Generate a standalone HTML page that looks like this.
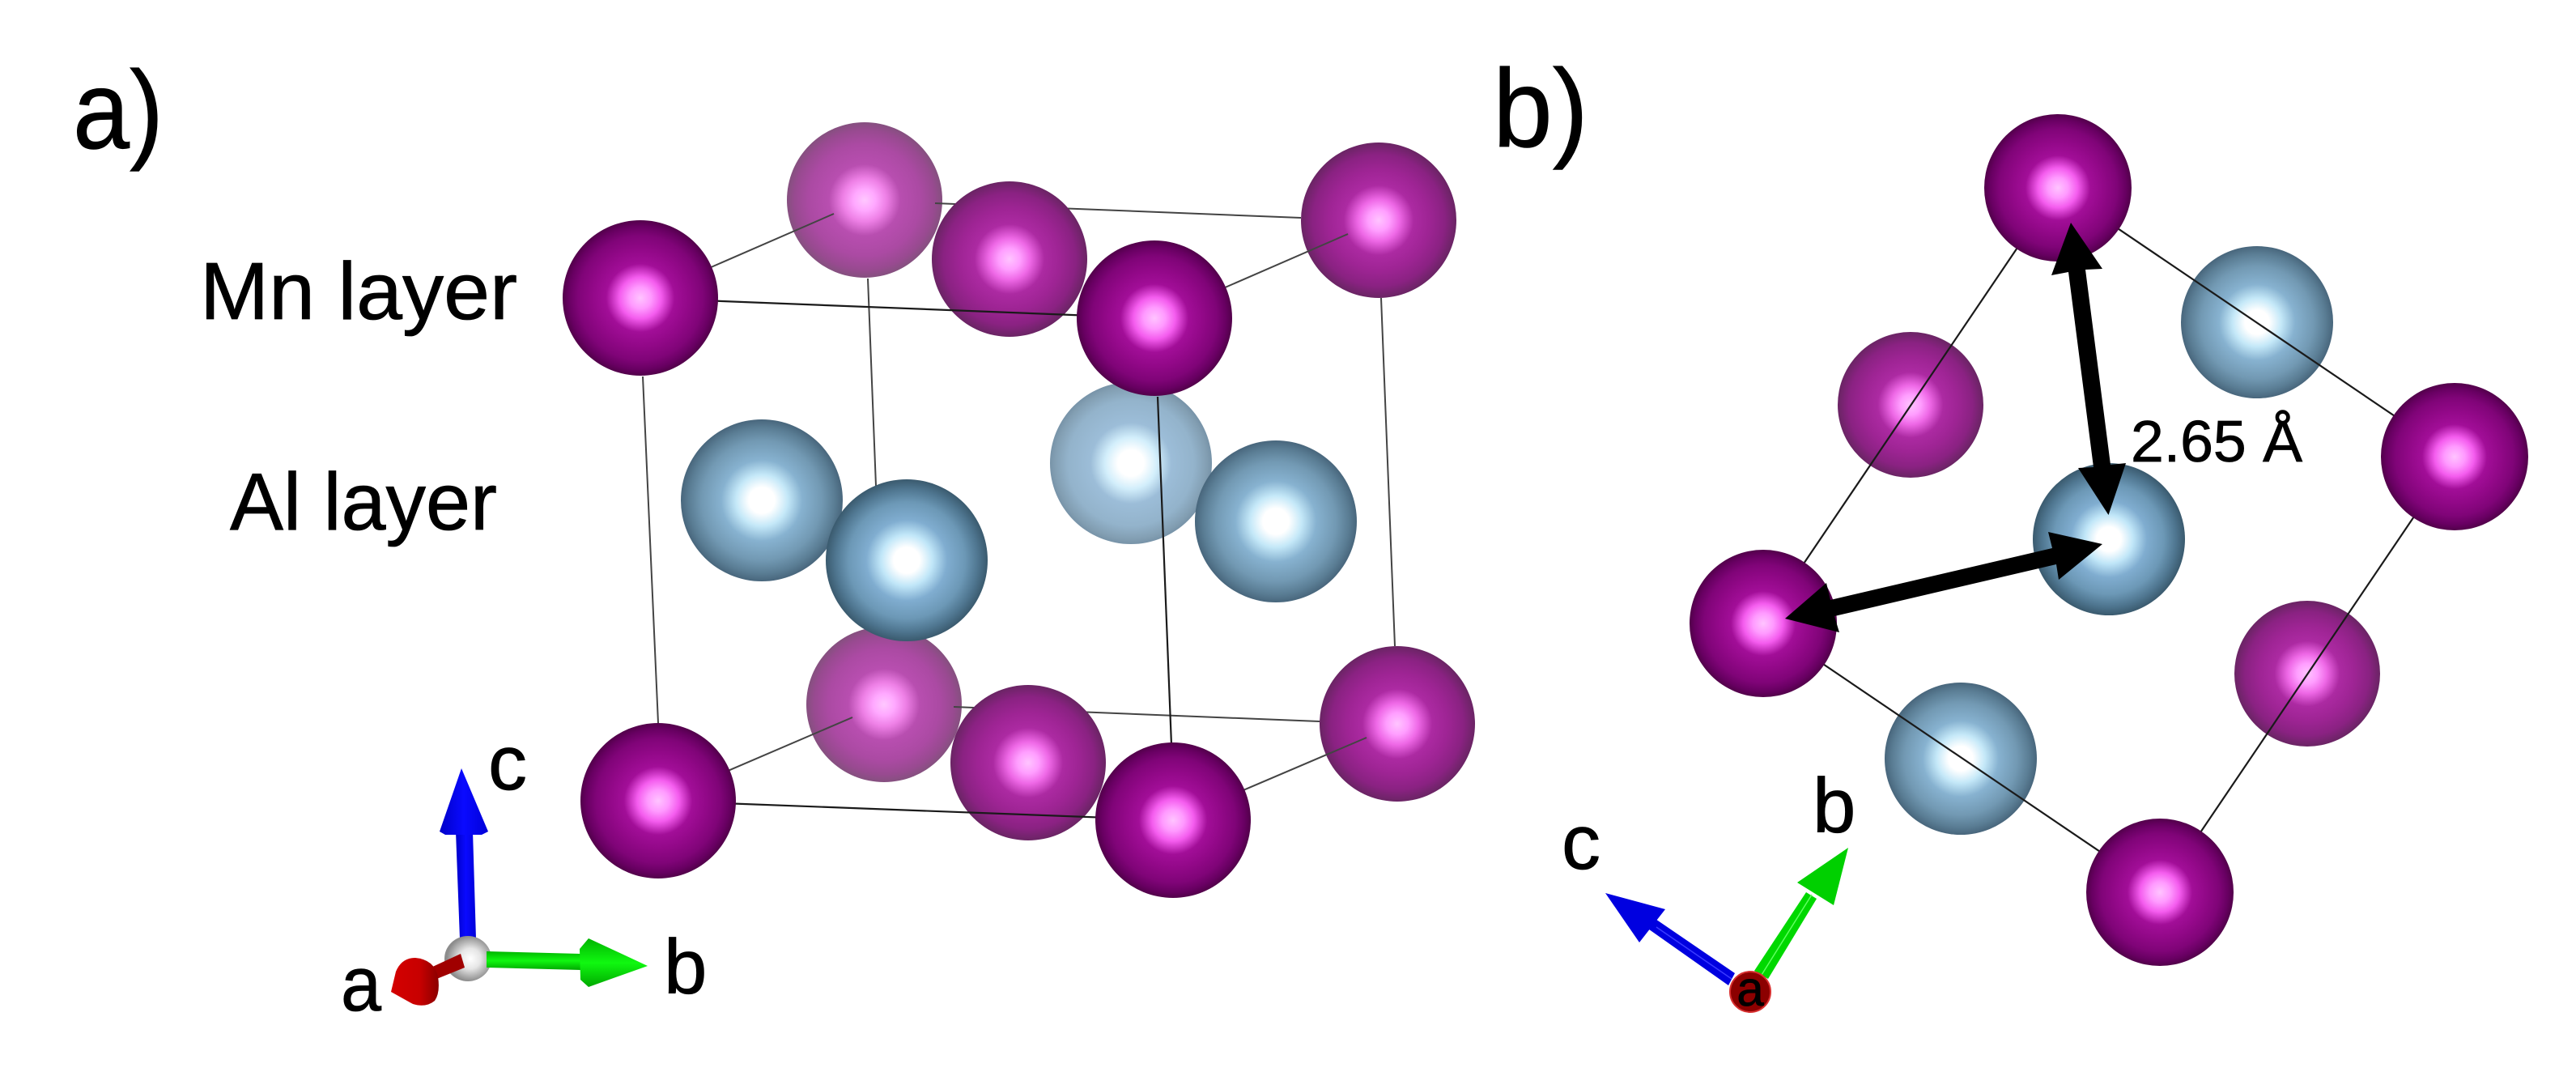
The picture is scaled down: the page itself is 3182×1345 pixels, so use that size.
<!DOCTYPE html>
<html lang="en">
<head>
<meta charset="utf-8">
<title>MnAl crystal structure</title>
<style>
html,body{margin:0;padding:0;background:#fff;width:3182px;height:1345px;overflow:hidden}
svg{display:block}
text{font-family:"Liberation Sans",sans-serif;fill:#000;stroke:#000;stroke-width:.8}
.ln{stroke:#444;stroke-width:2;fill:none}
.lb{stroke:#1a1a1a;stroke-width:2.2;fill:none}
</style>
</head>
<body>
<svg xmlns="http://www.w3.org/2000/svg" width="3182" height="1345" viewBox="0 0 3182 1345">
<defs>
<radialGradient id="mnF"><stop offset="0" stop-color="#ffc4ff"/><stop offset=".14" stop-color="#ff9aff"/><stop offset=".27" stop-color="#f45cee"/><stop offset=".44" stop-color="#a20e98"/><stop offset=".62" stop-color="#920888"/><stop offset=".8" stop-color="#800478"/><stop offset=".92" stop-color="#680062"/><stop offset="1" stop-color="#52004a"/></radialGradient>
<radialGradient id="mnM"><stop offset="0" stop-color="#ffc4ff"/><stop offset=".14" stop-color="#ff9eff"/><stop offset=".27" stop-color="#ee68e6"/><stop offset=".45" stop-color="#ac2aa2"/><stop offset=".65" stop-color="#9e2494"/><stop offset=".85" stop-color="#8a2282"/><stop offset="1" stop-color="#6a2464"/></radialGradient>
<radialGradient id="mnB"><stop offset="0" stop-color="#ffc8ff"/><stop offset=".14" stop-color="#ffa8ff"/><stop offset=".28" stop-color="#ee80e6"/><stop offset=".46" stop-color="#b84eb0"/><stop offset=".72" stop-color="#ab4aa3"/><stop offset=".9" stop-color="#984a90"/><stop offset="1" stop-color="#85507f"/></radialGradient>
<radialGradient id="alF"><stop offset="0" stop-color="#fff"/><stop offset=".16" stop-color="#fff"/><stop offset=".32" stop-color="#c0e6f8"/><stop offset=".5" stop-color="#80add0"/><stop offset=".72" stop-color="#6c98b6"/><stop offset=".88" stop-color="#4f7690"/><stop offset="1" stop-color="#3a5a6e"/></radialGradient>
<radialGradient id="alM"><stop offset="0" stop-color="#fff"/><stop offset=".16" stop-color="#fff"/><stop offset=".32" stop-color="#c4e8f8"/><stop offset=".5" stop-color="#87b2d0"/><stop offset=".74" stop-color="#7299b3"/><stop offset=".9" stop-color="#5a7d94"/><stop offset="1" stop-color="#48667c"/></radialGradient>
<radialGradient id="alB"><stop offset="0" stop-color="#fff"/><stop offset=".16" stop-color="#fff"/><stop offset=".32" stop-color="#d2eefb"/><stop offset=".5" stop-color="#9cbdd8"/><stop offset=".78" stop-color="#93b3cb"/><stop offset=".94" stop-color="#829eb2"/><stop offset="1" stop-color="#7793a8"/></radialGradient>
<radialGradient id="greyBall" cx=".55" cy=".5"><stop offset="0" stop-color="#fff"/><stop offset=".45" stop-color="#e6e6e6"/><stop offset="1" stop-color="#8c8c8c"/></radialGradient>
<linearGradient id="blueV" x1="0" x2="1" y1="0" y2="0"><stop offset="0" stop-color="#0000c8"/><stop offset=".5" stop-color="#0a0aff"/><stop offset="1" stop-color="#0000d8"/></linearGradient>
<linearGradient id="greenH" x1="0" x2="0" y1="0" y2="1"><stop offset="0" stop-color="#00b400"/><stop offset=".5" stop-color="#10f810"/><stop offset="1" stop-color="#00a800"/></linearGradient>
<linearGradient id="redH" x1="0" x2="1" y1="0" y2="0"><stop offset="0" stop-color="#d40000"/><stop offset=".6" stop-color="#c80000"/><stop offset="1" stop-color="#8a0000"/></linearGradient>
</defs>

<g>
  <text x="90" y="183" font-size="137" textLength="112" lengthAdjust="spacingAndGlyphs">a)</text>
  <text x="247" y="394" font-size="100" textLength="392" lengthAdjust="spacingAndGlyphs">Mn layer</text>
  <text x="284" y="654" font-size="100" textLength="330" lengthAdjust="spacingAndGlyphs">Al layer</text>

  <g>
    <circle cx="1068" cy="247" r="96" fill="url(#mnB)"/>
    <circle cx="1092" cy="870" r="96" fill="url(#mnB)"/>
    <circle cx="1703" cy="272" r="96" fill="url(#mnM)"/>
    <circle cx="1726" cy="894" r="96" fill="url(#mnM)"/>
  </g>

  <g>
    <line class="ln" x1="791" y1="368" x2="1030" y2="264"/>
    <line class="ln" x1="1155" y1="251" x2="1607" y2="269"/>
    <line class="ln" x1="1426" y1="393" x2="1665" y2="289"/>
    <line class="ln" x1="1072" y1="344" x2="1082" y2="600"/>
    <line class="ln" x1="1706" y1="368" x2="1723" y2="798"/>
    <line class="ln" x1="794" y1="465" x2="813" y2="893"/>
    <line class="ln" x1="813" y1="989" x2="1053" y2="886"/>
    <line class="ln" x1="1449" y1="1013" x2="1688" y2="911"/>
    <line class="ln" x1="1178" y1="873" x2="1630" y2="891"/>
  </g>

  <g>
    <circle cx="1247" cy="320" r="96" fill="url(#mnM)"/>
    <circle cx="1270" cy="942" r="96" fill="url(#mnM)"/>
    <circle cx="941" cy="618" r="100" fill="url(#alM)"/>
    <circle cx="1397" cy="572" r="100" fill="url(#alB)"/>
    <circle cx="1576" cy="644" r="100" fill="url(#alM)"/>
    <circle cx="1120" cy="692" r="100" fill="url(#alF)"/>
  </g>

  <g>
    <line class="lb" x1="791" y1="368" x2="1426" y2="393"/>
    <line class="lb" x1="1430" y1="490" x2="1447" y2="920"/>
    <line class="lb" x1="813" y1="989" x2="1449" y2="1013"/>
  </g>

  <g>
    <circle cx="791" cy="368" r="96" fill="url(#mnF)"/>
    <circle cx="813" cy="989" r="96" fill="url(#mnF)"/>
    <circle cx="1426" cy="393" r="96" fill="url(#mnF)"/>
    <circle cx="1449" cy="1013" r="96" fill="url(#mnF)"/>
  </g>

  <g>
    <polygon points="563,1027 584,1027 588,1160 568,1160" fill="url(#blueV)"/>
    <polygon points="570,949 603,1027 595,1031 550,1031 543,1027" fill="url(#blueV)"/>
    <ellipse cx="578" cy="1184" rx="29" ry="28" fill="url(#greyBall)"/>
    <polygon points="601,1175 717,1178 717,1198 601,1195" fill="url(#greenH)"/>
    <polygon points="727,1159 800,1193 727,1219 717,1210 716,1172" fill="url(#greenH)"/>
    <polygon points="569,1178 574,1195 537,1210 530,1196" fill="#a00000"/>
    <path d="M483,1225 L489,1200 Q496,1183 513,1183 Q536,1185 541,1206 Q544,1226 537,1236 Q526,1245 510,1240 Z" fill="url(#redH)"/>
    <text x="603" y="975" font-size="96">c</text>
    <text x="820" y="1227" font-size="96">b</text>
    <text x="421" y="1248" font-size="96" textLength="50" lengthAdjust="spacingAndGlyphs">a</text>
  </g>
</g>

<g>
  <text x="1844" y="181" font-size="137" textLength="118" lengthAdjust="spacingAndGlyphs">b)</text>

  <g>
    <circle cx="2788" cy="398" r="94" fill="url(#alM)"/>
    <circle cx="2422" cy="937" r="94" fill="url(#alM)"/>
    <circle cx="2360" cy="500" r="90" fill="url(#mnM)"/>
    <circle cx="2850" cy="832" r="90" fill="url(#mnM)"/>
  </g>

  <g>
    <line class="lb" x1="2542" y1="232" x2="3032" y2="564"/>
    <line class="lb" x1="3032" y1="564" x2="2668" y2="1102"/>
    <line class="lb" x1="2668" y1="1102" x2="2178" y2="770"/>
    <line class="lb" x1="2178" y1="770" x2="2542" y2="232"/>
  </g>

  <g>
    <circle cx="2542" cy="232" r="91" fill="url(#mnF)"/>
    <circle cx="3032" cy="564" r="91" fill="url(#mnF)"/>
    <circle cx="2668" cy="1102" r="91" fill="url(#mnF)"/>
    <circle cx="2178" cy="770" r="91" fill="url(#mnF)"/>
    <circle cx="2605" cy="666" r="94" fill="url(#alF)"/>
  </g>

  <g fill="#000">
    <polygon points="2558,275 2597,332 2576,333 2607,574 2626,572 2604.5,636 2567,578 2586,577 2555,336 2534,340"/>
    <polygon points="2205,764 2256,720 2261,741 2535,677 2530,657 2597,672 2543,716 2540,697 2266,761 2272,781"/>
  </g>

  <text x="2632" y="570" font-size="72" textLength="212" lengthAdjust="spacingAndGlyphs">2.65 Å</text>

  <g>
    <polygon points="2042,1133 2143,1202 2135,1217 2030,1143" fill="#0000e0"/>
    <line x1="2046" y1="1145" x2="2139" y2="1209" stroke="#3a3aff" stroke-width="1.5"/>
    <polygon points="1983,1103 2057,1123 2025,1164" fill="#0000e0"/>
    <polygon points="2231,1102 2244,1110 2184,1209 2167,1199" fill="#00d800"/>
    <line x1="2238" y1="1105" x2="2176" y2="1204" stroke="#60ff60" stroke-width="1.5"/>
    <polygon points="2283,1047 2220,1090 2265,1118" fill="#00d000"/>
    <circle cx="2162" cy="1225" r="25" fill="#8c0000" stroke="#d83030" stroke-width="2"/>
    <text x="2162" y="1242" font-size="60" text-anchor="middle">a</text>
    <text x="1929" y="1073" font-size="96">c</text>
    <text x="2239" y="1028" font-size="96">b</text>
  </g>
</g>
</svg>
</body>
</html>
